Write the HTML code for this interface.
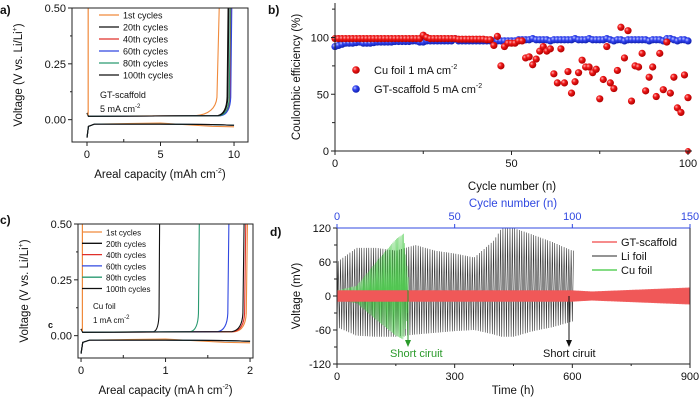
<!DOCTYPE html>
<html><head><meta charset="utf-8"><style>
body{margin:0;background:#fff}
svg{display:block;font-family:"Liberation Sans",Arial,sans-serif}
</style></head><body>
<svg id="fig" width="700" height="400" viewBox="0 0 700 400">
<defs>
<radialGradient id="gr" cx="35%" cy="35%" r="65%"><stop offset="0" stop-color="#ffb0b0"/><stop offset="0.4" stop-color="#f01818"/><stop offset="1" stop-color="#b00000"/></radialGradient>
<radialGradient id="gb" cx="35%" cy="35%" r="65%"><stop offset="0" stop-color="#c0c8ff"/><stop offset="0.4" stop-color="#3344f0"/><stop offset="1" stop-color="#1020b0"/></radialGradient>
</defs>
</svg>
<script>
// ---------- data ----------
const capA = [9.0, 9.6, 9.8, 9.85, 9.75, 9.65];
const capC = [1.97, 0.93, 1.95, 1.75, 1.40, 1.93];
const cycleLabels = ["1st cycles","20th cycles","40th cycles","60th cycles","80th cycles","100th cycles"];
const cycleColors = ["#f08a3c","#111","#e0302a","#3048e0","#2a9a70","#111"];
const cuCE = [99,99,99,99,99,99,99,99,99,99,99,99,99,99,99,99,99,99,99,99,99,99,99,99,99,102,100,99,99,99,99,99,99,99,99,98.5,98.5,98.5,98.5,98.5,98.5,98.5,98.5,98,98,93,101,75,92,95,95,95,97,97,82,83,76,81,88,92,88,90,68,60,90,60,70,51,61,69,80,74,74,69,72,46,63,92,60,55,71,109,82,106,44,75,74,86,53,65,74,48,86,54,96,51,65,38,34,67,47];
const gtCE = [92,93,94,95,95,95,95.5,96,95,95,95,95.5,96,96,96,96,96,96.5,96.5,96.5,96.5,96.5,97,97,96,96,97,97,97,97,97,97,97,97,99,97,97,97,97,97,97,97,97,97,97,97,97,97,97,97,97,97,98,98,98,98,99,98,98,98,98,97,98,98,98,98,98,98,99,98,98,98,99,98,98,98,98,99,98,97,98,98,97,98,98,98,98,98,98,97,98,98,98,97,99,99,98,97,98,98,97];
const tEnv = [0,50,100,150,200,250,300,350,400,420,450,500,550,600];
const liHigh = [60,85,85,80,90,80,75,68,98,120,120,108,95,80];
const liLow = [55,70,72,72,68,65,62,60,68,72,72,62,55,45];
const cuT = [0,50,100,150,170,182];
const cuAmp = [10,18,60,100,110,30];
const gtT = [0,300,600,650,900];
const gtAmp = [10,10,10,8,15];
const dTicks = [0,300,600,900];
const dYTicks = [-120,-60,0,60,120];
const topTicks = [0,50,100,150];

const S = document.getElementById('fig');
const NS = 'http://www.w3.org/2000/svg';
function el(tag, attrs, parent){const e=document.createElementNS(NS,tag);for(const k in attrs)e.setAttribute(k,attrs[k]);(parent||S).appendChild(e);return e;}
function txt(x,y,s,size,anchor,parent,extra){const t=el('text',Object.assign({x:x,y:y,'font-size':size,'text-anchor':anchor||'start',fill:'#111'},extra||{}),parent);t.innerHTML=s;return t;}
function lin(a0,a1,p0,p1){return v=>p0+(v-a0)*(p1-p0)/(a1-a0);}
function interp(xs,ys,x){if(x<=xs[0])return ys[0];for(let i=1;i<xs.length;i++){if(x<=xs[i]){const f=(x-xs[i-1])/(xs[i]-xs[i-1]);return ys[i-1]+f*(ys[i]-ys[i-1]);}}return ys[ys.length-1];}

// ---------- panel labels ----------
[['a)',0,14],['b)',268,14],['c)',0,224],['d)',270,236]].forEach(p=>{const t=txt(p[1],p[2],p[0],12,'start',null,{'font-weight':'bold'});});

// ---------- voltage profile panels ----------
function profilePanel(g, box, xr, xmax, caps, xticks, xminor, xtitle, label2, label3, legY, legX, fs){
  const X=lin(xr[0],xr[1],box.x0,box.x1), Y=lin(-0.1,0.5,box.y1,box.y0);
  const clip='clip'+box.x0;
  const cp=el('clipPath',{id:clip},g);el('rect',{x:box.x0,y:box.y0,width:box.x1-box.x0,height:box.y1-box.y0},cp);
  const cg=el('g',{'clip-path':'url(#'+clip+')'},g);
  caps.forEach((c,i)=>{
    let d='M'+X(0)+','+Y(-0.08)+' L'+X(xmax*0.01)+','+Y(-0.03)+' L'+X(xmax*0.05)+','+Y(-0.02);
    d+=' L'+X(xmax*0.5)+','+Y(i==0?-0.015:-0.02)+' L'+X(xmax*0.85)+','+Y(i==0?-0.03:-0.022)+' L'+X(xmax)+','+Y(i==0?-0.032:-0.025);
    const pd=el('path',{d:d,fill:'none',stroke:cycleColors[i],'stroke-width':1.1},cg);
    
    
    const w=(i==0&&xmax>5)?0.06:0.025;
    let c2='M'+X(0)+','+Y(0.03)+' L'+X(xmax*0.01)+','+Y(0.015);
    c2+=' L'+X(c*(1-w*3))+','+Y(0.018)+' Q'+X(c*(1-w*0.5))+','+Y(0.025)+' '+X(c*(1-w*0.3))+','+Y(0.1)+' L'+X(c)+','+Y(0.52);
    const pc=el('path',{d:c2,fill:'none',stroke:cycleColors[i],'stroke-width':1.1},cg);
    
    
  });
  el('line',{x1:X(xmax*0.008),x2:X(xmax*0.008),y1:Y(0.52),y2:Y(0.02),stroke:cycleColors[0],'stroke-width':1.2},cg);
  const fr=el('rect',{x:box.x0,y:box.y0,width:box.x1-box.x0,height:box.y1-box.y0,fill:'none',stroke:'#222','stroke-width':1},g);
  
  [0,0.25,0.5].forEach(v=>{el('line',{x1:box.x0,x2:box.x0-4,y1:Y(v),y2:Y(v),stroke:'#222'},g);txt(box.x0-6,Y(v)+4,v.toFixed(2),11,'end',g);});
  el('line',{x1:box.x0,x2:box.x0-2,y1:Y(0.125),y2:Y(0.125),stroke:'#222'},g);el('line',{x1:box.x0,x2:box.x0-2,y1:Y(0.375),y2:Y(0.375),stroke:'#222'},g);
  xticks.forEach(v=>{el('line',{x1:X(v),x2:X(v),y1:box.y1,y2:box.y1+4,stroke:'#222'},g);txt(X(v),box.y1+16,String(v),11,'middle',g);});
  xminor.forEach(v=>{el('line',{x1:X(v),x2:X(v),y1:box.y1,y2:box.y1-3,stroke:'#222'},g);});
  txt((box.x0+box.x1)/2,box.y1+36,xtitle,11.5,'middle',g);
  const yt=txt(0,0,'Voltage (V vs. Li/Li<tspan font-size="7" dy="-5">+</tspan><tspan dy="5">)</tspan>',11.5,'middle',g,{transform:'translate('+(box.x0-50)+','+((box.y0+box.y1)/2)+') rotate(-90)'});
  
  cycleLabels.forEach((l,i)=>{
    const y=legY[0]+i*legY[1];
    const lg=el('g',{},g);
    
    
    el('line',{x1:legX,x2:legX+20,y1:y,y2:y,stroke:cycleColors[i],'stroke-width':1.3},lg);
    txt(legX+24,y+3.5,l,fs,'start',lg);
  });
  txt(label2[0],label2[1],label2[2],fs,'start',g);
  txt(label3[0],label3[1],label3[2],fs,'start',g);
}
const ga=el('g',{});
profilePanel(ga,{x0:72,x1:248,y0:8,y1:142},[-1.02,10.95],10,capA,[0,5,10],[2.5,7.5],'Areal capacity (mAh cm<tspan font-size="7" dy="-5">-2</tspan><tspan dy="5">)</tspan>',[100,98,'GT-scaffold'],[100,112,'5 mA cm<tspan font-size="6" dy="-4">-2</tspan>'],[15,12],99,9);
const gc=el('g',{});
profilePanel(gc,{x0:78,x1:253,y0:224,y1:358},[-0.036,2.035],2,capC,[0,1,2],[0.5,1.5],'Areal capacity (mA h cm<tspan font-size="7" dy="-5">-2</tspan><tspan dy="5">)</tspan>',[93,309,'Cu foil'],[93,323,'1 mA cm<tspan font-size="6" dy="-4">-2</tspan>'],[232,11.3],82,8);
txt(48,328,'c',9,'start',null,{'font-weight':'bold'});

// ---------- panel b ----------
const gb=el('g',{});
const bx=lin(0,100,335,688), by=lin(0,100,151,37.5);
gtCE.forEach((v,i)=>{const c=el('circle',{cx:bx(i),cy:by(v),r:3.6,fill:'url(#gb)'},gb);});
cuCE.forEach((v,i)=>{const c=el('circle',{cx:bx(i),cy:by(v),r:3.6,fill:'url(#gr)'},gb);});
el('circle',{cx:bx(100),cy:by(0),r:3,fill:'url(#gr)'},gb);
el('line',{x1:335,x2:335,y1:3,y2:151,stroke:'#222'},gb);
el('line',{x1:335,x2:692,y1:151,y2:151,stroke:'#222'},gb);
[0,50,100].forEach(v=>{el('line',{x1:335,x2:331,y1:by(v),y2:by(v),stroke:'#222'},gb);txt(329,by(v)+4,String(v),11,'end',gb);});
[25,75,125].forEach(v=>{el('line',{x1:335,x2:332,y1:by(v),y2:by(v),stroke:'#222'},gb);});
[0,50,100].forEach(v=>{el('line',{x1:bx(v),x2:bx(v),y1:151,y2:155,stroke:'#222'},gb);txt(bx(v),167,String(v),11,'middle',gb);});
[25,75].forEach(v=>{el('line',{x1:bx(v),x2:bx(v),y1:151,y2:154,stroke:'#222'},gb);});
txt(512,190,'Cycle number (n)',11.5,'middle',gb);
txt(0,0,'Coulombic efficiency (%)',11.5,'middle',gb,{transform:'translate(300,77) rotate(-90)'});
const lb1=el('g',{},gb);
el('circle',{cx:356,cy:70,r:3.8,fill:'url(#gr)'},lb1);txt(374,74,'Cu foil 1 mA cm<tspan font-size="7" dy="-5">-2</tspan>',11,'start',lb1);
const lb2=el('g',{},gb);
el('circle',{cx:356,cy:89,r:3.8,fill:'url(#gb)'},lb2);txt(374,93,'GT-scaffold 5 mA cm<tspan font-size="7" dy="-5">-2</tspan>',11,'start',lb2);

// ---------- panel d ----------
const gd=el('g',{});
const dx=lin(0,900,337,690), dy=lin(-120,120,364,228);
const cpd=el('clipPath',{id:'cpd'},gd);el('rect',{x:337,y:228,width:353,height:136},cpd);
const dg=el('g',{'clip-path':'url(#cpd)'},gd);
function osc(tEnd,period,xs,hi,lo){let p=[];for(let t=0;t<=tEnd;t+=period/2){const k=Math.round(t/(period/2))%2;const a=k?interp(xs,hi,t):-interp(xs,lo,t);p.push(dx(t).toFixed(2)+','+dy(a).toFixed(2));}return p.join(' ');}
const li=el('polyline',{points:osc(605,6,tEnv,liHigh,liLow),fill:'none',stroke:'#333','stroke-width':0.6},dg);

const cu=el('polyline',{points:osc(182,3,cuT,cuAmp,cuAmp.map(v=>v*0.7)),fill:'none',stroke:'#4ccc4c','stroke-width':0.6,opacity:0.9},dg);

const gt=el('polyline',{points:osc(900,2.5,gtT,gtAmp,gtAmp),fill:'none',stroke:'#f05858','stroke-width':0.9},dg);

el('rect',{x:337,y:228,width:353,height:136,fill:'none',stroke:'#222'},gd);
el('line',{x1:337,x2:690,y1:228,y2:228,stroke:'#3048e0'},gd);
dYTicks.forEach(v=>{el('line',{x1:337,x2:333,y1:dy(v),y2:dy(v),stroke:'#222'},gd);txt(331,dy(v)+4,String(v),11,'end',gd);});
[-90,-30,30,90].forEach(v=>{el('line',{x1:337,x2:334,y1:dy(v),y2:dy(v),stroke:'#222'},gd);});
dTicks.forEach(v=>{el('line',{x1:dx(v),x2:dx(v),y1:364,y2:368,stroke:'#222'},gd);txt(dx(v),380,String(v),11,'middle',gd);});
[150,450,750].forEach(v=>{el('line',{x1:dx(v),x2:dx(v),y1:364,y2:366,stroke:'#222'},gd);});
const tx=lin(0,150,337,690);
topTicks.forEach(v=>{el('line',{x1:tx(v),x2:tx(v),y1:228,y2:224,stroke:'#3048e0'},gd);txt(tx(v),220,String(v),11,'middle',gd,{fill:'#3048e0'});});
txt(513,207,'Cycle number (n)',11.5,'middle',gd,{fill:'#3048e0'});
txt(513,394,'Time (h)',11.5,'middle',gd);
txt(0,0,'Voltage (mV)',11.5,'middle',gd,{transform:'translate(300,296) rotate(-90)'});
[['GT-scaffold','#f04848',242],['Li foil','#555',256],['Cu foil','#3cc83c',270]].forEach(l=>{
  const lg=el('g',{},gd);
  
  
  el('line',{x1:592,x2:617,y1:l[2],y2:l[2],stroke:l[1],'stroke-width':1.3},lg);
  txt(621,l[2]+4,l[0],11,'start',lg);
});
el('line',{x1:408,x2:408,y1:290,y2:343,stroke:'#2a9a2a'},gd);el('path',{d:'M405,340 L408,347 L411,340 Z',fill:'#2a9a2a'},gd);
txt(390,357,'Short ciruit',11,'start',gd,{fill:'#2a9a2a'});
el('line',{x1:569,x2:569,y1:296,y2:343,stroke:'#111'},gd);el('path',{d:'M566,340 L569,347 L572,340 Z',fill:'#111'},gd);
txt(543,357,'Short ciruit',11,'start',gd);
</script>
</body></html>
